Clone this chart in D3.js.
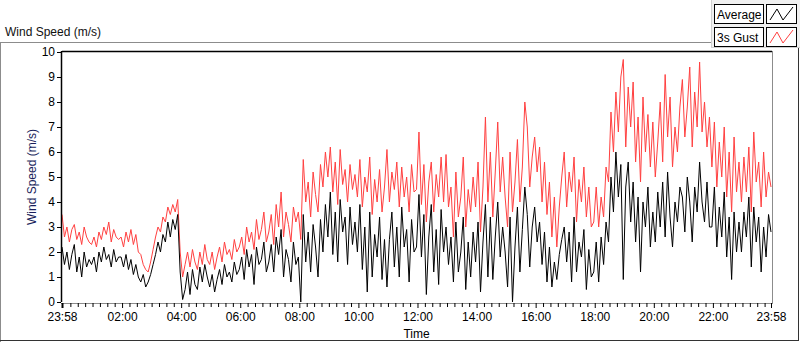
<!DOCTYPE html>
<html>
<head>
<meta charset="utf-8">
<script src="https://cdn.jsdelivr.net/npm/d3@7"></script>
<style>
  body { margin: 0; background: #fff; }
  text { font-family: "Liberation Sans", Arial, sans-serif; }
</style>
</head>
<body>
<div id="chart"></div>
<script>
// 5-minute samples starting at 23:58, one row per hour
var gust = [
  3.5, 2.6, 3.0, 2.4, 2.9, 3.1, 2.5, 2.8, 2.3, 3.0, 2.6, 2.4,
  2.3, 2.6, 2.2, 2.8, 2.5, 3.0, 2.7, 3.2, 2.4, 2.9, 2.6, 2.5,
  2.6, 2.2, 2.8, 2.4, 2.9, 2.3, 2.7, 2.0, 1.9, 1.5, 1.3, 1.2,
  1.6, 2.1, 2.6, 3.0, 2.8, 3.4, 3.2, 3.8, 3.5, 3.9, 3.6, 4.1,
  2.0, 1.0, 1.5, 2.0, 1.4, 2.1, 1.6, 1.3, 2.0, 1.5, 2.3, 1.7,
  1.5, 2.0, 1.3, 1.8, 2.2, 1.6, 2.4, 1.9, 2.1, 1.7, 2.5, 2.0,
  2.2, 2.6, 1.9, 3.0, 2.4, 2.8, 2.1, 3.3, 2.5, 2.9, 3.6, 2.4,
  2.8, 3.5, 2.3, 3.9, 3.0, 4.4, 2.6, 3.6, 3.1, 2.4, 3.8, 3.2,
  3.6, 2.5, 5.7, 4.0, 4.8, 3.4, 5.2, 4.3, 3.6, 5.5, 4.6, 6.0,
  5.0, 6.2, 4.4, 5.6, 3.9, 6.1, 4.7, 5.3, 4.0, 5.5, 4.5, 5.1,
  4.2, 5.7, 3.8, 5.0, 4.4, 5.8, 3.5, 4.9, 4.0, 5.3, 3.6, 4.6,
  6.1, 4.0, 5.2, 4.5, 5.6, 3.8, 5.4, 4.2, 5.0, 3.6, 5.5, 4.4,
  4.5, 6.8, 3.9, 5.5, 3.2, 4.8, 5.6, 3.6, 5.1, 4.2, 5.8, 4.0,
  5.9, 3.8, 4.6, 2.6, 5.2, 3.4, 4.2, 5.8, 3.0, 4.5, 3.6, 5.0,
  3.8, 5.6, 2.8, 4.6, 7.4, 4.0, 6.0, 3.4, 5.2, 7.2, 4.4, 5.8,
  4.2, 3.0, 6.0, 3.6, 4.8, 6.5, 4.0, 5.4, 8.0, 7.0, 4.6, 5.8,
  6.6, 5.2, 6.2, 4.0, 5.6, 3.5, 4.8, 2.6, 4.2, 2.2, 3.8, 5.0,
  6.0, 3.8, 5.2, 4.4, 5.8, 3.2, 4.9, 4.0, 5.4, 3.4, 4.6, 3.0,
  3.2, 4.6, 3.0, 4.2, 3.4, 5.4, 4.8, 7.6, 6.0, 8.4, 6.8, 9.0,
  9.7, 6.2, 8.6, 7.0, 8.8, 5.6, 7.4, 4.8, 8.2, 6.0, 7.5, 5.4,
  7.2, 5.0, 6.4, 8.0, 5.6, 9.1, 6.6, 8.2, 5.4, 7.0, 6.0, 7.8,
  8.9, 6.6, 7.8, 9.4, 6.2, 8.4, 7.0, 9.6, 6.8, 8.0, 6.2, 7.4,
  5.4, 7.2, 4.6, 6.4, 5.0, 7.0, 4.2, 6.0, 3.6, 6.6, 4.4, 5.6,
  4.0, 5.8, 4.4, 6.2, 3.6, 6.8, 4.8, 5.6, 3.8, 6.0, 4.2, 5.2,
  4.6
];

var average = [
  2.2, 1.5, 2.0, 1.3, 1.9, 2.3, 1.2, 1.8, 1.0, 2.0, 1.4, 1.7,
  1.5, 1.8, 1.2, 2.0, 1.6, 2.2, 1.7, 1.9, 1.4, 2.1, 1.6, 1.8,
  1.8, 1.4, 1.9, 1.3, 1.7, 1.1, 1.5, 1.0, 0.8, 1.1, 0.6, 0.8,
  1.1, 1.5, 1.9, 2.4, 2.0, 2.7, 2.4, 3.2, 2.6, 3.3, 2.9, 3.5,
  1.2, 0.1, 0.5, 1.2, 0.3, 1.3, 0.7, 0.5, 1.4, 0.8, 1.5, 1.0,
  0.6, 1.1, 0.4, 0.9, 1.3, 0.7, 1.5, 1.0, 1.2, 0.8, 1.6, 1.1,
  1.3, 1.8, 0.9, 2.1, 1.4, 1.9, 0.7, 2.2, 1.5, 1.7, 2.4, 1.2,
  1.6, 2.3, 1.2, 2.6, 1.9, 2.9, 1.0, 2.1, 1.7, 0.8, 2.4, 1.5,
  1.8, 0.0, 3.5, 1.6, 2.8, 1.2, 3.1, 2.2, 1.0, 3.3, 2.0, 3.9,
  2.6, 4.4, 1.9, 3.6, 1.6, 4.1, 2.8, 3.4, 1.5, 3.8, 2.3, 3.2,
  2.0, 3.9, 1.3, 3.0, 0.4, 3.6, 1.0, 2.7, 1.8, 3.4, 0.9, 2.5,
  0.6, 2.5, 3.6, 1.4, 3.0, 1.0, 3.8, 2.2, 2.9, 0.8, 3.3, 2.0,
  2.2, 4.3, 1.8, 3.5, 0.3, 2.6, 3.9, 1.2, 2.9, 0.7, 3.7, 2.0,
  3.0, 1.5, 2.6, 0.8, 3.2, 1.2, 2.0, 3.4, 0.5, 2.4, 1.0, 2.8,
  1.6, 3.2, 0.4, 2.4, 3.9, 1.0, 3.4, 0.9, 2.6, 4.0, 1.8, 3.0,
  2.0, 0.6, 3.4, 0.0, 2.2, 3.8, 1.2, 2.9, 4.6, 3.5, 1.4, 3.0,
  3.8, 2.4, 3.2, 1.5, 2.8, 0.8, 2.2, 0.6, 1.6, 0.9, 1.9, 2.5,
  3.0, 1.6, 2.8, 0.8, 3.4, 1.2, 2.4, 1.8, 2.9, 0.5, 2.1, 1.0,
  1.2, 2.4, 0.8, 2.6, 1.5, 3.2, 2.4, 5.0, 3.6, 6.0, 4.2, 5.5,
  0.9, 4.6, 5.6, 3.2, 4.8, 2.4, 4.2, 1.2, 4.0, 3.0, 4.6, 2.2,
  3.6, 2.4, 4.4, 3.0, 4.8, 2.6, 5.2, 3.4, 2.2, 4.0, 3.2, 4.6,
  4.2, 2.8, 5.0, 4.0, 2.4, 4.6, 3.6, 5.6, 4.0, 3.2, 4.8, 3.0,
  3.0, 4.6, 2.2, 3.8, 2.6, 4.4, 1.8, 3.4, 0.9, 3.6, 2.0, 3.2,
  2.0, 3.6, 2.6, 4.2, 1.4, 3.8, 2.4, 3.4, 1.2, 3.0, 1.8, 3.5,
  2.8
];

var yTicks = [0, 1, 2, 3, 4, 5, 6, 7, 8, 9, 10];
var xTickHours = [2, 4, 6, 8, 10, 12, 14, 16, 18, 20, 22];
var legendNames = ["Average", "3s Gust"];
var legendColors = ["#000000", "#ff4040"];

var width = 800, height = 342;
var margin = {left: 62, right: 29, top: 52, bottom: 40};

var start = new Date(2000, 0, 1, 23, 58);
var end = d3.timeMinute.offset(start, 1440);
var times = average.map((d, i) => d3.timeMinute.offset(start, i * 5));

var svg = d3.select('#chart')
  .append('svg')
  .attr("width", width)
  .attr("height", height);

var x = d3.scaleTime()
  .domain([start, end])
  .range([margin.left, width - margin.right]);
var y = d3.scaleLinear()
  .domain([0, 10])
  .range([height - margin.bottom, margin.top]);

// outer panel
svg.append("line").attr("x1", 0).attr("x2", 712).attr("y1", 42.5).attr("y2", 42.5).attr("stroke", "#8c8c8c");
svg.append("line").attr("x1", 0.5).attr("x2", 0.5).attr("y1", 42).attr("y2", 342).attr("stroke", "#8c8c8c");
svg.append("line").attr("x1", 798.5).attr("x2", 798.5).attr("y1", 48).attr("y2", 341).attr("stroke", "#333");
svg.append("line").attr("x1", 0).attr("x2", 799).attr("y1", 340.5).attr("y2", 340.5).attr("stroke", "#333");

svg.append("text")
  .attr("x", 5).attr("y", 36)
  .style("font-size", "12px")
  .attr("fill", "#111")
  .text("Wind Speed (m/s)");

// legend
var leg = svg.append("g");
leg.append("rect").attr("x", 711).attr("y", 0).attr("width", 89).attr("height", 48).attr("fill", "#f0f0f0");
leg.append("line").attr("x1", 711.5).attr("x2", 711.5).attr("y1", 0).attr("y2", 48).attr("stroke", "#d0d0d0");
leg.append("line").attr("x1", 711).attr("x2", 800).attr("y1", 47.5).attr("y2", 47.5).attr("stroke", "#d0d0d0");

var icon = d3.line();
legendNames.forEach((name, i) => {
  var top = 4 + i * 23;
  leg.append("rect").attr("x", 714.5).attr("y", top + 0.5).attr("width", 49).attr("height", 19)
    .attr("fill", "#fff").attr("stroke", "#000");
  leg.append("text").attr("x", 717).attr("y", top + 15)
    .style("font-size", "12px").attr("fill", "#000").text(name);
  leg.append("rect").attr("x", 766.5).attr("y", top + 0.5).attr("width", 30).attr("height", 19)
    .attr("fill", "#fff").attr("stroke", "#000");
  leg.append("path")
    .attr("d", icon([[770, top + 16], [777, top + 5], [783, top + 16], [793, top + 3]]))
    .attr("fill", "none").attr("stroke", legendColors[i]).attr("stroke-width", 1);
});

// plot frame
svg.append("rect")
  .attr("x", margin.left).attr("y", margin.top)
  .attr("width", width - margin.left - margin.right)
  .attr("height", height - margin.top - margin.bottom)
  .attr("fill", "#fff");

var line = d3.line()
  .x((d, i) => x(times[i]))
  .y(d => y(d));

svg.append("path")
  .datum(gust)
  .attr("fill", "none")
  .attr("stroke", legendColors[1])
  .attr("stroke-width", 1)
  .attr("d", line);

svg.append("path")
  .datum(average)
  .attr("fill", "none")
  .attr("stroke", legendColors[0])
  .attr("stroke-width", 1)
  .attr("d", line);

svg.append("line").attr("x1", margin.left).attr("x2", width - margin.right + 1)
  .attr("y1", margin.top - 0.5).attr("y2", margin.top - 0.5).attr("stroke", "#000").attr("stroke-width", 1.5);
svg.append("line").attr("x1", margin.left - 0.5).attr("x2", margin.left - 0.5)
  .attr("y1", margin.top - 1).attr("y2", height - margin.bottom).attr("stroke", "#000").attr("stroke-width", 1.5);
svg.append("line").attr("x1", width - margin.right + 1.5).attr("x2", width - margin.right + 1.5)
  .attr("y1", margin.top - 1).attr("y2", height - margin.bottom + 1).attr("stroke", "#8c8c8c");

// y axis
var yAxis = svg.append("g")
  .attr("transform", `translate(${margin.left - 1},0)`)
  .call(d3.axisLeft(y).tickValues(yTicks).tickSize(4).tickPadding(2));
yAxis.select(".domain").remove();
yAxis.selectAll("text").style("font-size", "12px").attr("fill", "#000");

svg.append("text")
  .attr("transform", `translate(36,${(margin.top + height - margin.bottom) / 2}) rotate(-90)`)
  .attr("text-anchor", "middle")
  .style("font-size", "12px")
  .attr("fill", "#1a1f5c")
  .text("Wind Speed (m/s)");

// x axis
var axisY = height - margin.bottom + 1;
svg.append("line").attr("x1", margin.left - 1).attr("x2", width - margin.right + 2)
  .attr("y1", axisY + 0.5).attr("y2", axisY + 0.5).attr("stroke", "#8c8c8c");

var minorTicks = d3.range(0, 96).map(k => d3.timeMinute.offset(new Date(2000, 0, 2, 0, 0), k * 15))
  .filter(d => d.getMinutes() !== 0 || d.getHours() % 2 !== 0);
var minorAxis = svg.append("g")
  .attr("transform", `translate(0,${axisY})`)
  .call(d3.axisBottom(x).tickValues(minorTicks).tickSize(4).tickFormat(""));
minorAxis.select(".domain").remove();

var majorTicks = [start].concat(xTickHours.map(h => new Date(2000, 0, 2, h, 0)), [end]);
var fmt = d3.timeFormat("%H:%M");
var majorAxis = svg.append("g")
  .attr("transform", `translate(0,${axisY})`)
  .call(d3.axisBottom(x).tickValues(majorTicks).tickSize(5).tickPadding(4).tickFormat(fmt));
majorAxis.select(".domain").remove();
majorAxis.selectAll("text").style("font-size", "12px").attr("fill", "#000");
majorAxis.selectAll(".tick line").filter((d, i) => i === 0).attr("stroke-width", 2);

svg.append("text")
  .attr("x", (margin.left + width - margin.right) / 2)
  .attr("y", 338)
  .attr("text-anchor", "middle")
  .style("font-size", "12px")
  .attr("fill", "#000")
  .text("Time");
</script>
</body>
</html>
